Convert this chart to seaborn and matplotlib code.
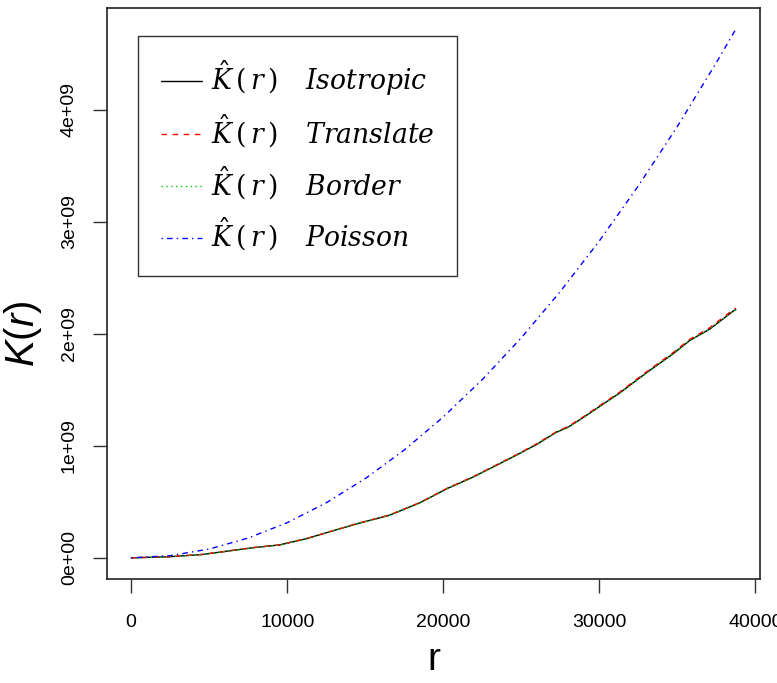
import matplotlib
matplotlib.use("Agg")
import matplotlib.pyplot as plt
from matplotlib.font_manager import FontProperties
import seaborn as sns
import pandas as pd

r_obs = [0, 2450, 4570, 7780, 9500, 11200, 13140, 14630, 16550, 18480, 20280,
         21900, 24460, 25960, 27240, 27990, 28950, 30230, 31300, 33010, 34720,
         35800, 37070, 38570, 38750]
k_iso = [0.0, 0.010e9, 0.030e9, 0.090e9, 0.115e9, 0.170e9, 0.250e9, 0.310e9,
         0.380e9, 0.490e9, 0.620e9, 0.720e9, 0.900e9, 1.010e9, 1.120e9, 1.165e9,
         1.250e9, 1.370e9, 1.470e9, 1.650e9, 1.820e9, 1.940e9, 2.040e9, 2.200e9,
         2.215e9]
k_trans = [0.0, 0.010e9, 0.031e9, 0.091e9, 0.116e9, 0.171e9, 0.251e9, 0.312e9,
           0.382e9, 0.492e9, 0.623e9, 0.723e9, 0.904e9, 1.015e9, 1.125e9, 1.171e9,
           1.256e9, 1.377e9, 1.478e9, 1.658e9, 1.830e9, 1.950e9, 2.052e9, 2.213e9,
           2.228e9]
k_bord = [0.0, 0.010e9, 0.030e9, 0.089e9, 0.114e9, 0.169e9, 0.249e9, 0.309e9,
          0.379e9, 0.489e9, 0.619e9, 0.719e9, 0.899e9, 1.008e9, 1.118e9, 1.163e9,
          1.248e9, 1.368e9, 1.468e9, 1.648e9, 1.818e9, 1.938e9, 2.038e9, 2.198e9,
          2.212e9]
# Poisson (theoretical) curve
r_pois = [0, 2500, 5000, 7500, 10000, 12500, 15000, 17500, 20000, 22500, 25000,
          27500, 30000, 32500, 35000, 37500, 38750]
k_pois = [0.0, 0.0196e9, 0.0785e9, 0.177e9, 0.314e9, 0.491e9, 0.707e9, 0.962e9,
          1.257e9, 1.590e9, 1.963e9, 2.376e9, 2.827e9, 3.318e9, 3.848e9, 4.418e9,
          4.717e9]

x_ticks = [0, 10000, 20000, 30000, 40000]
y_ticks = [0, 1e9, 2e9, 3e9, 4e9]
y_tick_labels = ["0e+00", "1e+09", "2e+09", "3e+09", "4e+09"]
legend_names = ["Isotropic", "Translate", "Border", "Poisson"]

sns.set_theme(style="white")
plt.rcParams["font.family"] = ["Liberation Sans", "DejaVu Sans"]
plt.rcParams["text.color"] = "black"
plt.rcParams["axes.labelcolor"] = "black"
plt.rcParams["mathtext.fontset"] = "custom"
plt.rcParams["mathtext.it"] = "Liberation Sans:italic"
plt.rcParams["mathtext.rm"] = "Liberation Sans"

fig = plt.figure(figsize=(7.77, 6.83), dpi=100)
ax = fig.add_axes([107 / 777, 1 - 579 / 683, (760 - 107) / 777, (579 - 8) / 683])

obs = pd.DataFrame({"r": r_obs, "iso": k_iso, "trans": k_trans, "bord": k_bord})
pois = pd.DataFrame({"r": r_pois, "theo": k_pois})

lab = [r"$\hat{K}\,(\,r\,)\;\;\;\;\mathit{%s}$" % n for n in legend_names]
sns.lineplot(data=obs, x="r", y="iso", ax=ax, color="black", lw=1.0,
             linestyle="-", label=lab[0])
sns.lineplot(data=obs, x="r", y="trans", ax=ax, color="#FF0000", lw=1.0,
             label=lab[1])
ax.lines[-1].set_dashes([4, 4])
sns.lineplot(data=obs, x="r", y="bord", ax=ax, color="#00CD00", lw=1.0,
             label=lab[2])
ax.lines[-1].set_dashes([1, 2.5])
sns.lineplot(data=pois, x="r", y="theo", ax=ax, color="#0000FF", lw=1.0,
             label=lab[3])
ax.lines[-1].set_dashes([1, 3, 4, 3])

xmin, xmax = 0, 38750
xpad = (xmax - xmin) * 0.04
ax.set_xlim(xmin - xpad, xmax + xpad)
ymax = 4.717e9
ypad = ymax * 0.04
ax.set_ylim(-ypad, ymax + ypad)

ax.set_xticks(x_ticks)
ax.set_xticklabels([str(t) for t in x_ticks])
ax.set_yticks(y_ticks)
ax.set_yticklabels(y_tick_labels, rotation=90, va="center")
ax.tick_params(axis="both", direction="out", length=10, width=1.0,
               color="#333333", labelsize=14, labelcolor="black",
               bottom=True, left=True)
ax.tick_params(axis="x", pad=15)
ax.tick_params(axis="y", pad=11)
for s in ax.spines.values():
    s.set_color("#222222")
    s.set_linewidth(1.2)

ax.set_xlabel("r", fontsize=28, labelpad=8)
ax.set_ylabel(r"$K(r)$", fontsize=29)
ax.yaxis.set_label_coords(-0.097, 0.43)

leg_fp = FontProperties(family="DejaVu Serif", size=19.2, math_fontfamily="dejavuserif")
leg = ax.legend(loc="upper left", bbox_to_anchor=((138 - 107) / 653, (579 - 36) / 571),
                prop=leg_fp, frameon=True, fancybox=False, edgecolor="black",
                handlelength=1.55, handletextpad=0.35, labelspacing=0.55,
                borderpad=0.85, borderaxespad=0.0)
leg.get_frame().set_linewidth(1.0)

fig.savefig("out.png", dpi=100)
